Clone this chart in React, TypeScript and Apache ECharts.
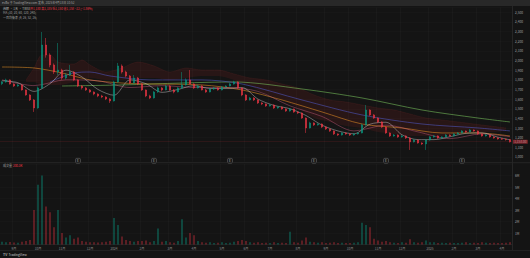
import React, { useEffect, useRef } from "react";
import * as echarts from "echarts";

// [open, close, low, high]
const candles: number[][] = [
  [1760, 1778, 1745, 1790], [1778, 1799, 1770, 1812], [1799, 1757, 1750, 1805], [1757, 1736, 1725, 1765],
  [1736, 1747, 1728, 1760], [1747, 1695, 1688, 1752], [1695, 1643, 1635, 1700], [1643, 1591, 1580, 1650],
  [1591, 1508, 1467, 1600], [1508, 1716, 1500, 1730], [1716, 2161, 1705, 2296], [2161, 2058, 2030, 2234],
  [2058, 1954, 1930, 2075], [1954, 1881, 1860, 1970], [1881, 1902, 1850, 2182], [1902, 1819, 1800, 1915],
  [1819, 1850, 1805, 1870], [1850, 1881, 1840, 1954], [1881, 1799, 1790, 1890], [1799, 1736, 1725, 1805],
  [1736, 1716, 1700, 1745], [1716, 1695, 1685, 1725], [1695, 1674, 1665, 1705], [1674, 1653, 1640, 1680],
  [1653, 1633, 1620, 1660], [1633, 1622, 1610, 1645], [1622, 1601, 1590, 1630], [1601, 1581, 1560, 1610],
  [1581, 1778, 1575, 1790], [1778, 1944, 1770, 1975], [1944, 1881, 1865, 1960], [1881, 1840, 1825, 1895],
  [1840, 1767, 1755, 1850], [1767, 1819, 1760, 1850], [1819, 1757, 1745, 1830], [1757, 1695, 1685, 1765],
  [1695, 1633, 1620, 1700], [1633, 1612, 1600, 1645], [1612, 1674, 1605, 1685], [1674, 1716, 1665, 1730],
  [1716, 1695, 1680, 1725], [1695, 1736, 1690, 1750], [1736, 1695, 1685, 1745], [1695, 1674, 1660, 1705],
  [1674, 1716, 1670, 1725], [1716, 1747, 1705, 1881], [1747, 1799, 1740, 1815], [1799, 1757, 1750, 1902],
  [1757, 1716, 1705, 1765], [1716, 1736, 1710, 1750], [1736, 1695, 1690, 1745], [1695, 1674, 1665, 1705],
  [1674, 1705, 1670, 1715], [1705, 1716, 1695, 1725], [1716, 1695, 1688, 1722], [1695, 1726, 1690, 1735],
  [1726, 1736, 1718, 1745], [1736, 1757, 1730, 1768], [1757, 1778, 1750, 1790], [1778, 1716, 1705, 1785],
  [1716, 1643, 1630, 1722], [1643, 1591, 1580, 1650], [1591, 1612, 1585, 1622], [1612, 1591, 1580, 1620],
  [1591, 1560, 1550, 1598], [1560, 1550, 1538, 1568], [1550, 1529, 1520, 1556], [1529, 1539, 1522, 1550],
  [1539, 1508, 1498, 1545], [1508, 1518, 1500, 1528], [1518, 1498, 1490, 1525], [1498, 1477, 1468, 1505],
  [1477, 1498, 1470, 1508], [1498, 1467, 1458, 1502], [1467, 1456, 1445, 1472], [1456, 1404, 1395, 1462],
  [1404, 1301, 1249, 1410], [1301, 1353, 1295, 1365], [1353, 1332, 1322, 1360], [1332, 1342, 1325, 1350],
  [1342, 1311, 1300, 1348], [1311, 1290, 1280, 1318], [1290, 1270, 1260, 1295], [1270, 1239, 1228, 1275],
  [1239, 1228, 1218, 1245], [1228, 1249, 1222, 1258], [1249, 1239, 1230, 1255], [1239, 1228, 1218, 1245],
  [1228, 1239, 1220, 1248], [1239, 1249, 1232, 1258], [1249, 1332, 1245, 1345], [1332, 1487, 1325, 1539],
  [1487, 1436, 1425, 1495], [1436, 1404, 1395, 1445], [1404, 1363, 1352, 1410], [1363, 1311, 1300, 1370],
  [1311, 1249, 1240, 1318], [1249, 1218, 1208, 1255], [1218, 1228, 1210, 1238], [1228, 1208, 1198, 1235],
  [1208, 1218, 1200, 1228], [1218, 1197, 1187, 1225], [1197, 1156, 1073, 1205], [1156, 1176, 1150, 1185],
  [1176, 1145, 1138, 1182], [1145, 1135, 1125, 1152], [1135, 1176, 1073, 1185], [1176, 1208, 1170, 1218],
  [1208, 1218, 1200, 1228], [1218, 1197, 1188, 1225], [1197, 1208, 1190, 1215], [1208, 1228, 1202, 1238],
  [1228, 1218, 1210, 1235], [1218, 1239, 1212, 1248], [1239, 1249, 1232, 1258], [1249, 1270, 1245, 1280],
  [1270, 1259, 1250, 1275], [1259, 1280, 1255, 1290], [1280, 1270, 1262, 1285], [1270, 1239, 1230, 1275],
  [1239, 1218, 1210, 1245], [1218, 1228, 1212, 1238], [1228, 1208, 1200, 1235], [1208, 1197, 1190, 1215],
  [1197, 1187, 1180, 1205], [1190, 1185, 1178, 1198], [1185, 1180, 1170, 1192], [1180, 1158, 1150, 1185],
];

// volume in millions
const volumes: number[] = [
  0.25, 0.2, 0.22, 0.18, 0.15, 0.25, 0.3, 0.4,
  3.0, 5.2, 6.0, 3.3, 2.8,
  1.5, 3.0, 1.0, 0.6, 0.8, 0.5, 0.6,
  0.3, 0.25, 0.2, 0.2, 0.18, 0.2, 0.25, 0.3,
  2.3, 1.7,
  0.7, 0.4, 0.3, 0.25, 0.3, 0.3, 0.35, 0.2, 0.3,
  1.4,
  0.25, 0.3, 0.2, 0.15, 0.3,
  2.2, 0.6, 1.0, 0.8, 0.3,
  0.2, 0.15, 0.2, 0.12, 0.15, 0.2, 0.12, 0.15, 0.25,
  0.3, 0.4, 0.3,
  0.2, 0.15, 0.2, 0.12, 0.15, 0.12, 0.2, 0.12, 0.15, 0.12,
  1.1,
  0.2, 0.15, 0.35,
  0.6,
  0.25, 0.2, 0.15, 0.2, 0.12, 0.15, 0.2, 0.12, 0.15, 0.12, 0.12, 0.15, 0.2,
  1.9, 1.7, 1.5,
  0.5, 0.35, 0.25, 0.3, 0.2, 0.15, 0.12, 0.2, 0.15,
  0.45,
  0.2, 0.15, 0.2, 0.35, 0.2, 0.2, 0.12, 0.15, 0.12, 0.15, 0.12, 0.12, 0.15, 0.2, 0.12, 0.15, 0.12, 0.2, 0.15, 0.12, 0.15, 0.12, 0.12, 0.15, 0.2,
];

const monthTicks: [number, string][] = [
  [3, "9月"], [9, "10月"], [15, "11月"], [22, "12月"], [28, "2024"], [35, "2月"], [42, "3月"],
  [48, "4月"], [55, "5月"], [61, "6月"], [67, "7月"], [74, "8月"], [81, "9月"], [87, "10月"],
  [94, "11月"], [100, "12月"], [107, "2025"], [113, "2月"], [119, "3月"], [125, "4月"],
];

// moving averages, [candle index, value]
const ma10: [number, number][] = [
  [0, 1790], [4, 1770], [8, 1680], [12, 1760], [16, 1900], [20, 1830], [24, 1700], [28, 1640],
  [32, 1800], [36, 1760], [40, 1670], [44, 1700], [48, 1740], [52, 1710], [56, 1710], [60, 1720],
  [64, 1600], [68, 1535], [72, 1500], [76, 1430], [80, 1330], [84, 1270], [88, 1240], [92, 1340],
  [96, 1360], [100, 1230], [104, 1180], [108, 1180], [112, 1210], [116, 1245], [120, 1250], [124, 1205], [127, 1178],
];
const ma20: [number, number][] = [
  [0, 1800], [8, 1740], [16, 1800], [24, 1790], [32, 1720], [40, 1740], [48, 1720], [56, 1720],
  [64, 1680], [72, 1530], [80, 1420], [88, 1270], [96, 1330], [104, 1260], [112, 1190], [120, 1240], [127, 1210],
];
const ma60: [number, number][] = [
  [0, 1933], [8, 1923], [15, 1871], [22, 1799], [30, 1767], [37, 1757], [50, 1747], [60, 1695],
  [70, 1591], [80, 1467], [90, 1342], [100, 1301], [110, 1249], [119, 1249], [127, 1218],
];
const ma120: [number, number][] = [
  [12, 1778], [18, 1871], [22, 1881], [27, 1840], [37, 1799], [50, 1799], [60, 1757], [75, 1591],
  [90, 1436], [105, 1342], [119, 1301], [127, 1270],
];
const ma240: [number, number][] = [
  [15, 1736], [30, 1747], [45, 1767], [58, 1778], [75, 1705], [90, 1612], [105, 1487], [119, 1404], [127, 1363],
];

// cloud: [candle index, lower, upper]
const cloud: [number, number, number][] = [
  [6, 1778, 1799], [8, 1778, 1923], [10, 1747, 2058], [12, 1747, 2058], [14, 1747, 1985], [18, 1778, 1964],
  [20, 1819, 2006], [22, 1819, 1954], [26, 1799, 1881], [30, 1799, 1923], [34, 1819, 1985], [38, 1819, 1944],
  [42, 1799, 1881], [46, 1819, 1923], [50, 1840, 1902], [54, 1840, 1902], [58, 1799, 1861], [62, 1736, 1819],
  [66, 1653, 1799], [70, 1591, 1757], [74, 1508, 1716], [78, 1404, 1643], [82, 1363, 1591], [86, 1321, 1570],
  [90, 1301, 1539], [94, 1259, 1508], [98, 1239, 1487], [102, 1218, 1446], [106, 1218, 1404], [110, 1218, 1384],
  [114, 1239, 1363], [118, 1259, 1342], [122, 1259, 1321], [126, 1270, 1301],
];

const earnings: number[] = [19, 38, 57, 78, 96, 115];
const lastPrice = 1158;
const lastVolume = 0.2;

const FONT = "'Noto Sans CJK SC', 'Noto Sans', sans-serif";
const UP = "#089981";
const DOWN = "#f23645";

export default function App() {
  const ref = useRef<HTMLDivElement>(null);
  useEffect(() => {
    if (!ref.current) return;
    const chart = echarts.init(ref.current, undefined, { renderer: "svg" });
    const categories = candles.map((_, i) => String(i));
    const tickSet = new Set(monthTicks.map((t) => t[0]));
    const labelMap = new Map(monthTicks.map((t) => [t[0], t[1]]));
    const lineS = (data: [number, number][], color: string, width = 0.7) => ({
      type: "line",
      xAxisIndex: 0,
      yAxisIndex: 0,
      data,
      symbol: "none",
      smooth: 0.3,
      lineStyle: { color, width },
      z: 3,
      silent: true,
    });
    const txt = (x: number, y: number, text: string, fill: string, fontSize = 3.2) => ({
      type: "text",
      x,
      y,
      style: { text, fill, fontSize, fontFamily: FONT },
      z: 10,
    });
    const option: any = {
      animation: false,
      backgroundColor: "#141414",
      textStyle: { fontFamily: FONT },
      grid: [
        { left: 0, right: 18, top: 7.5, height: 154.3 },
        { left: 0, right: 18, top: 164, height: 80.5 },
      ],
      xAxis: [
        {
          type: "category",
          gridIndex: 0,
          data: categories,
          axisLine: { show: false },
          axisTick: { show: false },
          axisLabel: { show: false },
          splitLine: { show: true, interval: (i: number) => tickSet.has(i), lineStyle: { color: "rgba(255,255,255,0.045)", width: 0.6 } },
        },
        {
          type: "category",
          gridIndex: 1,
          data: categories,
          axisLine: { show: true, lineStyle: { color: "#2a2a2a", width: 0.6 } },
          axisTick: { show: false },
          axisLabel: {
            show: true,
            interval: (i: number) => tickSet.has(i),
            formatter: (_v: string, i: number) => labelMap.get(i) ?? "",
            color: "#8c8c8c",
            fontSize: 3.2,
            margin: 2.2,
            fontFamily: FONT,
          },
          splitLine: { show: true, interval: (i: number) => tickSet.has(i), lineStyle: { color: "rgba(255,255,255,0.045)", width: 0.6 } },
        },
      ],
      yAxis: [
        {
          type: "value",
          gridIndex: 0,
          position: "right",
          min: 950,
          max: 2550,
          splitNumber: 16,
          axisLine: { show: false },
          axisTick: { show: false },
          axisLabel: {
            color: "#a0a0a0",
            fontSize: 3.2,
            margin: 3,
            fontFamily: FONT,
            formatter: (v: number) => (v % 100 === 0 ? v.toLocaleString("en-US") : ""),
          },
          splitLine: { show: true, lineStyle: { color: "rgba(255,255,255,0.03)", width: 0.6 } },
        },
        {
          type: "value",
          gridIndex: 1,
          position: "right",
          min: 0,
          max: 7,
          interval: 1,
          axisLine: { show: false },
          axisTick: { show: false },
          axisLabel: {
            color: "#a0a0a0",
            fontSize: 3.2,
            margin: 3,
            fontFamily: FONT,
            formatter: (v: number) => (v >= 1 && v <= 6 ? `${v}M` : ""),
          },
          splitLine: { show: true, lineStyle: { color: "rgba(255,255,255,0.03)", width: 0.6 } },
        },
      ],
      series: [
        {
          type: "line",
          xAxisIndex: 0,
          yAxisIndex: 0,
          stack: "cloud",
          data: cloud.map((c) => [c[0], c[1]]),
          symbol: "none",
          smooth: 0.3,
          lineStyle: { width: 0, opacity: 0 },
          silent: true,
          z: 1,
        },
        {
          type: "line",
          xAxisIndex: 0,
          yAxisIndex: 0,
          stack: "cloud",
          data: cloud.map((c) => [c[0], c[2] - c[1]]),
          symbol: "none",
          smooth: 0.3,
          lineStyle: { width: 0.4, color: "rgba(180,60,60,0.3)" },
          areaStyle: { color: "rgba(120,35,35,0.3)" },
          silent: true,
          z: 1,
        },
        lineS(ma240, "rgba(130,210,100,0.75)"),
        lineS(ma120, "rgba(80,90,200,0.8)"),
        lineS(ma60, "rgba(255,160,40,0.7)"),
        lineS(ma20, "rgba(240,110,150,0.6)", 0.6),
        lineS(ma10, "rgba(235,235,235,0.65)", 0.6),
        {
          type: "candlestick",
          xAxisIndex: 0,
          yAxisIndex: 0,
          data: candles,
          barMaxWidth: 1.5,
          itemStyle: { color: UP, color0: DOWN, borderColor: UP, borderColor0: DOWN, borderWidth: 0.5 },
          z: 4,
          markLine: {
            silent: true,
            symbol: "none",
            data: [{ yAxis: lastPrice }],
            lineStyle: { color: DOWN, width: 0.5, type: "dotted", opacity: 0.45 },
            label: {
              position: "end",
              distance: 1,
              formatter: lastPrice.toLocaleString("en-US") + ".00",
              color: "#fff",
              fontSize: 3.2,
              backgroundColor: DOWN,
              padding: [0.4, 1.2],
              borderRadius: 0.5,
              fontFamily: FONT,
            },
          },
        },
        {
          type: "scatter",
          xAxisIndex: 0,
          yAxisIndex: 0,
          data: earnings.map((i) => [i, 960]),
          symbol: "roundRect",
          symbolSize: [5, 5],
          itemStyle: { color: "#1b1b1b", borderColor: "#8a8a8a", borderWidth: 0.5 },
          label: { show: true, formatter: "E", position: "inside", color: "#cfcfcf", fontSize: 3, fontFamily: FONT },
          z: 5,
          silent: true,
        },
        {
          type: "bar",
          xAxisIndex: 1,
          yAxisIndex: 1,
          barMaxWidth: 1.1,
          data: volumes.map((v, i) => ({
            value: v,
            itemStyle: { color: candles[i][1] >= candles[i][0] ? "rgba(8,153,129,0.7)" : "rgba(242,54,69,0.6)" },
          })),
          markLine: {
            silent: true,
            symbol: "none",
            data: [{ yAxis: lastVolume }],
            lineStyle: { opacity: 0 },
            label: {
              position: "end",
              distance: 1,
              formatter: "200.3K",
              color: "#fff",
              fontSize: 3.2,
              backgroundColor: DOWN,
              padding: [0.4, 1.2],
              borderRadius: 0.5,
              fontFamily: FONT,
            },
          },
        },
      ],
      graphic: [
        { type: "rect", shape: { x: 0, y: 0, width: 530, height: 6 }, style: { fill: "#282828" }, z: 9 },
        { type: "line", shape: { x1: 512.5, y1: 6, x2: 512.5, y2: 250 }, style: { stroke: "#2a2a2a", lineWidth: 0.8 }, z: 9 },
        { type: "line", shape: { x1: 0, y1: 162.7, x2: 530, y2: 162.7 }, style: { stroke: "#2a2a2a", lineWidth: 0.8 }, z: 9 },
        { type: "line", shape: { x1: 0, y1: 250.5, x2: 530, y2: 250.5 }, style: { stroke: "#242424", lineWidth: 0.8 }, z: 9 },
        txt(2, 1.3, "ecBo 于 TradingView.com 发布, 2025年4月18日 10:52", "#a0a0a0", 3),
        txt(3, 7, "纬颖 · 1天 · TWSE", "#b8b8b8", 3),
        txt(30, 7, "开1,180 高1,185 低1,150 收1,158 −22 (−1.86%)", DOWN, 3),
        txt(3, 11.5, "MA (10, 20, 60, 120, 240)", "#a0a0a0", 3),
        txt(3, 16, "一目均衡表 (9, 26, 52, 26)", "#a0a0a0", 3),
        txt(3, 164.5, "成交量", "#a0a0a0", 3),
        txt(13, 164.5, "200.3K", DOWN, 3),
        txt(3, 252.6, "TV", "#e0e0e0", 3.6),
        txt(8.5, 252.8, "TradingView", "#c8c8c8", 3.2),
      ],
    };
    chart.setOption(option);
    return () => chart.dispose();
  }, []);
  return <div ref={ref} style={{ position: "fixed", left: 0, top: 0, width: 530, height: 258 }} />;
}
